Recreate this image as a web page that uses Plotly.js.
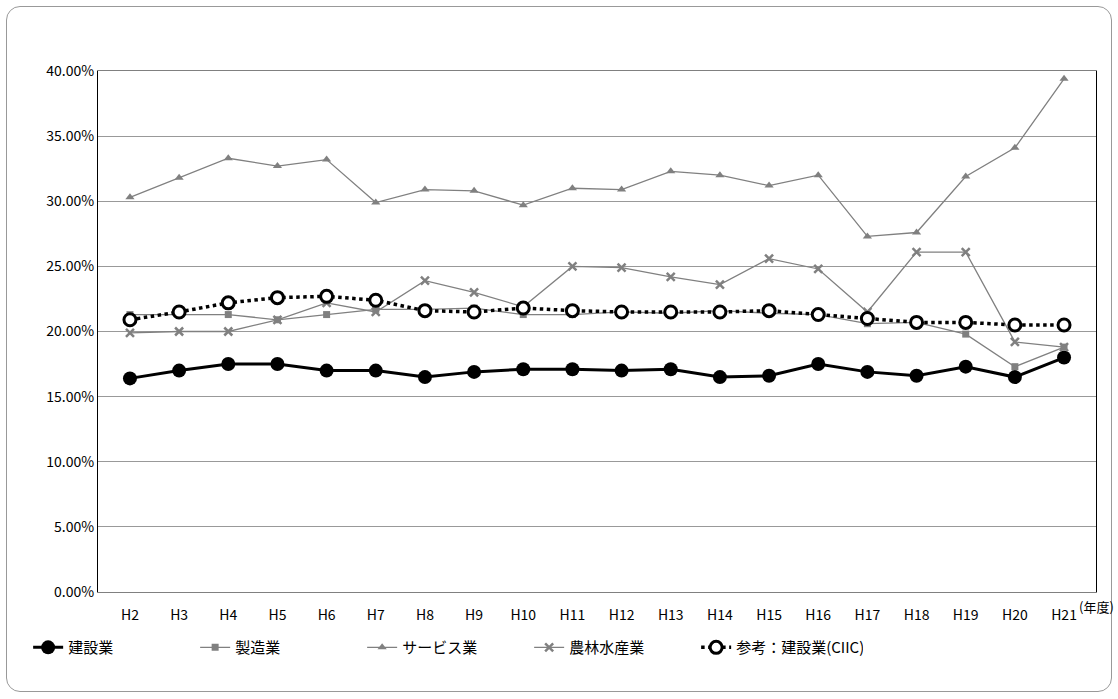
<!DOCTYPE html><html><head><meta charset="utf-8"><script src="https://cdn.plot.ly/plotly-3.0.1.min.js"></script>
<style>body{margin:0}#b{position:absolute;left:6px;top:6px;width:1104px;height:684px;border:1px solid #999;border-radius:14px}#c{position:absolute;left:0;top:0;width:1118px;height:699px}</style></head><body><div id="b"></div><div id="c"></div><script>
const years=["H2","H3","H4","H5","H6","H7","H8","H9","H10","H11","H12","H13","H14","H15","H16","H17","H18","H19","H20","H21"];
const kensetsu=[16.4,17.0,17.5,17.5,17.0,17.0,16.5,16.9,17.1,17.1,17.0,17.1,16.5,16.6,17.5,16.9,16.6,17.3,16.5,18.0];
const seizo=[21.3,21.3,21.3,20.9,21.3,21.7,21.7,21.8,21.3,21.3,21.5,21.4,21.6,21.4,21.3,20.6,20.7,19.8,17.3,18.8];
const service=[30.3,31.8,33.3,32.7,33.2,29.9,30.9,30.8,29.7,31.0,30.9,32.3,32.0,31.2,32.0,27.3,27.6,31.9,34.1,39.4];
const nourin=[19.9,20.0,20.0,20.9,22.2,21.5,23.9,23.0,21.9,25.0,24.9,24.2,23.6,25.6,24.8,21.5,26.1,26.1,19.2,18.8];
const ciic=[20.9,21.5,22.2,22.6,22.7,22.4,21.6,21.5,21.8,21.6,21.5,21.5,21.5,21.6,21.3,21.0,20.7,20.7,20.5,20.5];
const pct=a=>a.map(v=>v/100);
const g='#808080';
const data=[
{x:years,y:pct(kensetsu),name:'建設業',mode:'lines+markers',line:{color:'#000',width:3},marker:{size:14,color:'#000'}},
{x:years,y:pct(seizo),name:'製造業',mode:'lines+markers',line:{color:g,width:1.3},marker:{symbol:'square',size:7,color:g}},
{x:years,y:pct(service),name:'サービス業',mode:'lines+markers',line:{color:g,width:1.3},marker:{symbol:'triangle-up',size:8,color:g}},
{x:years,y:pct(nourin),name:'農林水産業',mode:'lines+markers',line:{color:g,width:1.3},marker:{symbol:'x-thin',size:8,color:g,line:{color:g,width:2.5}}},
{x:years,y:pct(ciic),name:'参考：建設業(CIIC)',mode:'lines+markers',line:{color:'#000',width:3.5,dash:'dot'},marker:{size:12,color:'#fff',line:{color:'#000',width:3}}}
];
const layout={width:1118,height:699,margin:{l:98,r:22,t:71,b:107},paper_bgcolor:'rgba(0,0,0,0)',plot_bgcolor:'#fff',
font:{family:'Noto Sans CJK JP, sans-serif',size:14,color:'#000'},showlegend:true,
legend:{orientation:'h',x:-0.07,xanchor:'left',y:-0.075,yanchor:'top',font:{size:15},itemwidth:30,entrywidth:122,tracegroupgap:0},
xaxis:{type:'category',range:[-0.65,19.65],showline:true,linecolor:'#808080',mirror:true,ticks:'outside',ticklen:10,tickcolor:'rgba(0,0,0,0)',showgrid:false,tickfont:{size:14}},
yaxis:{range:[0,0.4],dtick:0.05,tickformat:'.2%',showline:true,linecolor:'#000',mirror:true,gridcolor:'#999',ticks:'',zeroline:false,tickfont:{size:14}},
annotations:[{text:'(年度)',xref:'paper',yref:'paper',x:1.02,y:0,xanchor:'right',yanchor:'bottom',showarrow:false,font:{size:13},yshift:-26}]};
Plotly.newPlot('c',data,layout,{displayModeBar:false});
</script></body></html>
